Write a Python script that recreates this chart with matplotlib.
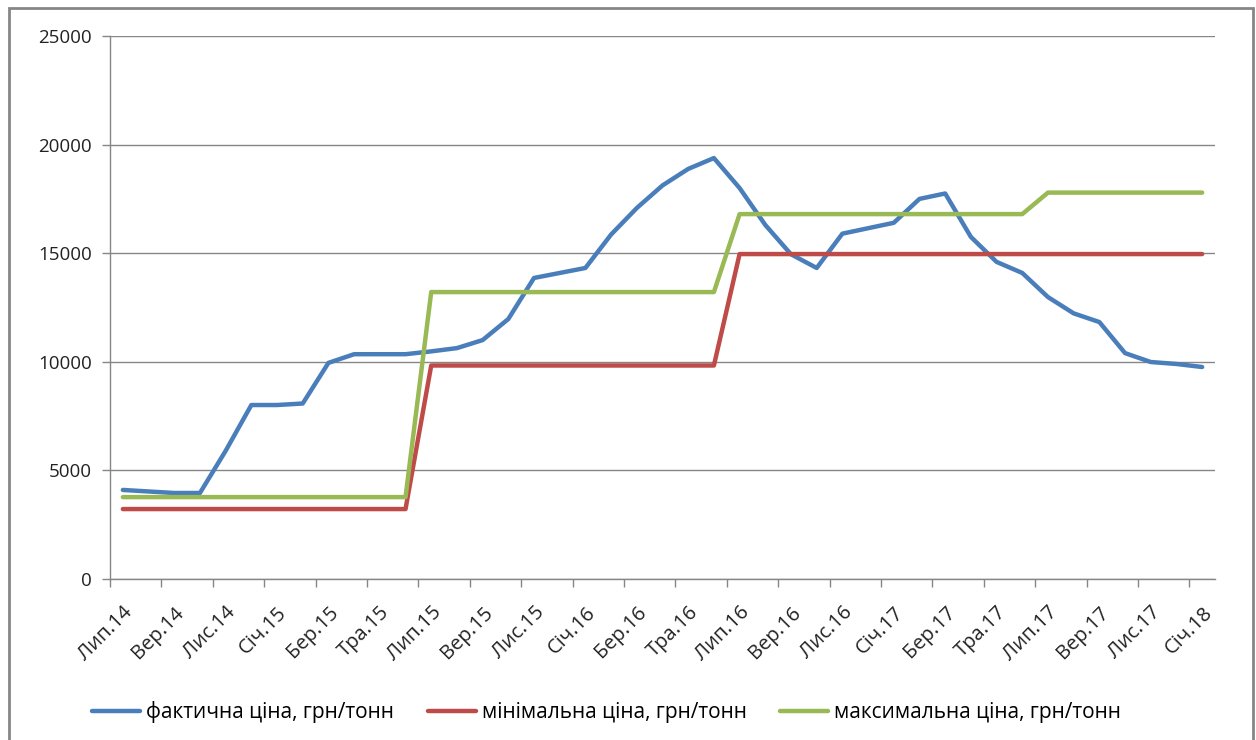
import numpy as np
import matplotlib
matplotlib.use('Agg')
import matplotlib.pyplot as plt
from matplotlib.patches import Rectangle

plt.rcParams['font.family'] = ['Open Sans', 'DejaVu Sans']

# months Jul 2014 .. Jan 2018
month_names = ['Січ', 'Лют', 'Бер', 'Кві', 'Тра', 'Чер',
               'Лип', 'Сер', 'Вер', 'Жов', 'Лис', 'Гру']
months = []
for k in range(43):
    m = (6 + k) % 12
    yr = 14 + (6 + k) // 12
    months.append(month_names[m] + '.' + str(yr))

actual = [4100, 4030, 3960, 3960, 5900, 8010, 8010, 8080, 9950, 10350,
          10350, 10350, 10480, 10630, 11000, 11970, 13860, 14090, 14320, 15860,
          17080, 18120, 18880, 19380, 18000, 16300, 14950, 14320, 15900, 16150,
          16400, 17500, 17750, 15750, 14600, 14090, 12980, 12230, 11830, 10400,
          9990, 9900, 9760]
min_price = [3220] * 12 + [9830] * 12 + [14960] * 19
max_price = [3770] * 12 + [13210] * 12 + [16800] * 12 + [17790] * 7

series_names = ['фактична ціна, грн/тонн', 'мінімальна ціна, грн/тонн',
                'максимальна ціна, грн/тонн']
colors = ['#4A7EBB', '#BE4B48', '#98B954']

fig = plt.figure(figsize=(12.56, 7.40), dpi=100)
ax = fig.add_axes([110 / 1256, 1 - 579 / 740, 1105 / 1256, 543 / 740])

x = np.arange(len(months))
for vals, name, c in zip([actual, min_price, max_price], series_names, colors):
    ax.plot(x, vals, color=c, lw=3.2, label=name, solid_capstyle='round',
            solid_joinstyle='round')

ax.set_xlim(-0.5, len(months) - 0.5)
ax.set_ylim(0, 25000)
ax.set_yticks(np.arange(0, 25001, 5000))
ax.yaxis.grid(True, color='#868686', lw=1)
ax.set_axisbelow(True)

# category labels every 2 months, tick marks between categories
ax.set_xticks(x[::2])
ax.set_xticklabels(months[::2], rotation=45, ha='right', rotation_mode='anchor')
ax.set_xticks(np.arange(-0.5, len(months), 2), minor=True)
ax.tick_params(axis='x', which='major', length=0, pad=17, labelsize=14.5,
               colors='#222222')
ax.tick_params(axis='x', which='minor', length=6, color='#868686', width=1)
ax.tick_params(axis='y', length=6, color='#868686', width=1, labelsize=13.5,
               labelcolor='#222222', pad=7)

for s in ['top', 'right']:
    ax.spines[s].set_visible(False)
for s in ['left', 'bottom']:
    ax.spines[s].set_color('#868686')
    ax.spines[s].set_linewidth(1)

fig.legend(loc='center', bbox_to_anchor=(0.483, 1 - 712 / 740), ncol=3,
           frameon=False, fontsize=15, handlelength=2.3, handletextpad=0.3,
           columnspacing=1.6)

fig.patches.append(Rectangle((9 / 1256, -0.01), 1244 / 1256, 1 - 8 / 740 + 0.01,
                             transform=fig.transFigure, fill=False,
                             edgecolor='#868686', lw=2))

fig.savefig('out.png', dpi=100)
